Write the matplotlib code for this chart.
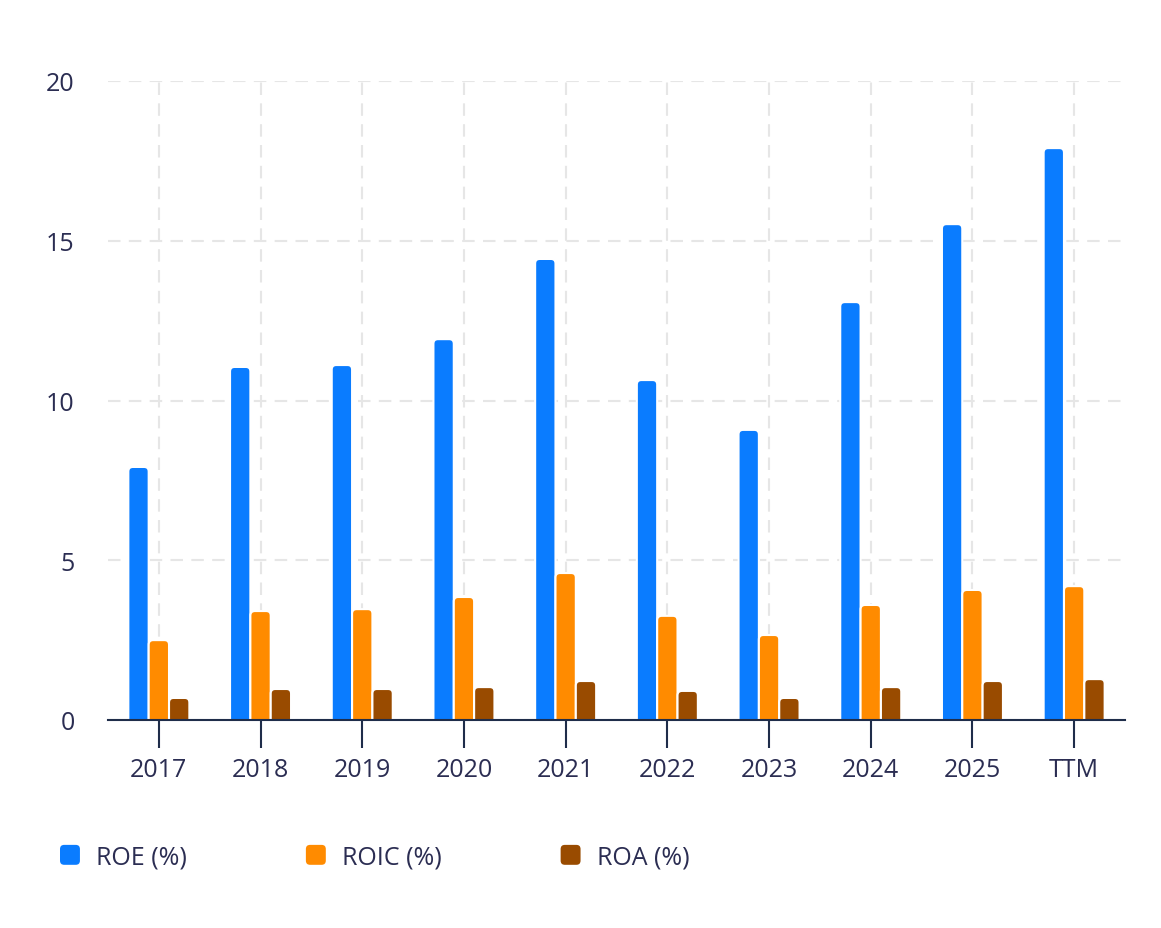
import matplotlib
matplotlib.use("Agg")
import matplotlib.pyplot as plt
from matplotlib.patches import FancyBboxPatch, Patch
from matplotlib.legend_handler import HandlerPatch

years = ["2017", "2018", "2019", "2020", "2021", "2022", "2023", "2024", "2025", "TTM"]
roe = [7.92, 11.05, 11.11, 11.92, 14.43, 10.64, 9.08, 13.08, 15.52, 17.9]
roic = [2.50, 3.41, 3.47, 3.85, 4.60, 3.26, 2.66, 3.60, 4.07, 4.19]
roa = [0.69, 0.97, 0.97, 1.03, 1.22, 0.91, 0.69, 1.03, 1.22, 1.28]

series = [("ROE (%)", roe, "#0a7cff"), ("ROIC (%)", roic, "#ff8b00"), ("ROA (%)", roa, "#994b00")]
text_color = "#2b2d52"
axis_color = "#1f2d4a"

plt.rcParams["font.family"] = ["Open Sans", "DejaVu Sans"]

fig = plt.figure(figsize=(11.61, 9.29), dpi=100)
ax = fig.add_axes([108 / 1161, 1 - 721 / 929, 1017 / 1161, (721 - 82) / 929])
ax.set_xlim(-0.5, 9.5)
ax.set_ylim(0, 20)

width = 0.2
# px per unit in x and y, used to keep corners round
px_x = 1017 / 10
px_y = (721 - 82) / 20
aspect = px_x / px_y
radius = 4.5 / px_x

for idx, (label, values, color) in enumerate(series):
    offset = (idx - 1) * width
    for i, value in enumerate(values):
        x0 = i + offset - width / 2
        patch = FancyBboxPatch(
            (x0, -1), width, value + 1,
            boxstyle=f"round,pad=0,rounding_size={radius}",
            mutation_aspect=aspect,
            facecolor=color, edgecolor="white", linewidth=1.5,
            zorder=3,
        )
        ax.add_patch(patch)

ax.set_xticks(range(len(years)))
ax.set_xticklabels(years)
ax.set_yticks([0, 5, 10, 15, 20])
ax.grid(True, color="#e6e6e6", linestyle=(0, (6, 4)), linewidth=1.5, zorder=0)
ax.set_axisbelow(True)

for side in ["top", "right", "left"]:
    ax.spines[side].set_visible(False)
ax.spines["bottom"].set_color(axis_color)
ax.spines["bottom"].set_linewidth(1.5)
ax.spines["bottom"].set_zorder(4)

ax.tick_params(axis="x", length=20, width=1.5, color=axis_color, labelsize=18,
               labelcolor=text_color, pad=7)
ax.tick_params(axis="y", length=0, labelsize=18, labelcolor=text_color, pad=24)


class RoundHandler(HandlerPatch):
    def create_artists(self, legend, orig_handle, xdescent, ydescent, width, height, fontsize, trans):
        size = min(width, height)
        p = FancyBboxPatch(
            (-xdescent, -ydescent + (height - size) / 2), size, size,
            boxstyle="round,pad=0,rounding_size=3",
            facecolor=orig_handle.get_facecolor(), edgecolor="none",
            transform=trans,
        )
        return [p]


handles = [Patch(facecolor=c, label=l) for l, _, c in series]
fig.legend(
    handles=handles,
    loc="center left",
    bbox_to_anchor=(60 / 1161, 1 - 858 / 929),
    ncol=3,
    frameon=False,
    borderpad=0,
    borderaxespad=0,
    fontsize=18,
    labelcolor=text_color,
    handlelength=0.85,
    handleheight=0.85,
    handletextpad=0.6,
    columnspacing=4.75,
    handler_map={Patch: RoundHandler()},
)

fig.savefig("out.png", dpi=100, facecolor="white")
